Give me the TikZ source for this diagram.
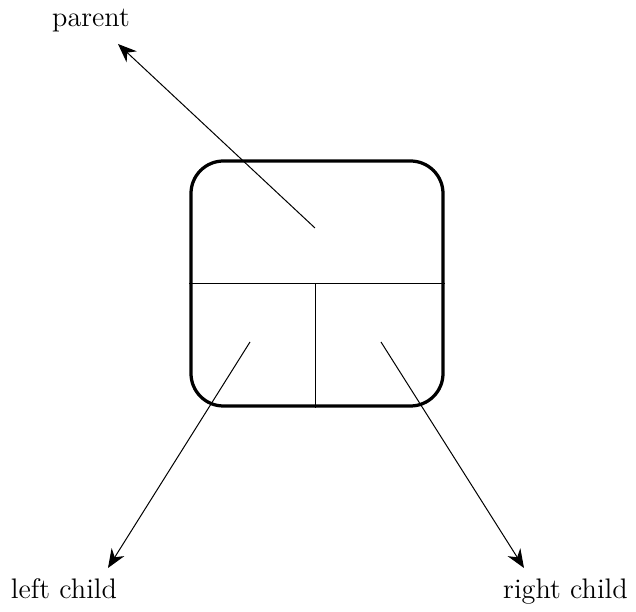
\documentclass[tikz,border=0pt]{standalone}
\usetikzlibrary{arrows.meta}
\begin{document}
\begin{tikzpicture}[x=0.4pt,y=-0.4pt,
  cell/.style={draw,line width=1.3pt,rounded corners=13pt,minimum width=100.8pt,minimum height=98pt,inner sep=0pt},
  divider/.style={line width=0.4pt},
  link/.style={line width=0.4pt,-{Stealth[length=7.5pt,width=6pt]}},
  label/.style={inner sep=0pt,anchor=base,font=\fontsize{11.3}{13}\selectfont}]
\useasboundingbox (0,0) rectangle (636,612);
% the node record with its three fields
\node[cell] (box) at (317,283.5) {};
\coordinate (midL) at (box.west |- 0,284);
\coordinate (midR) at (box.east |- 0,284);
\coordinate (midC) at (316,284);
\draw[divider] (midL) -- (midR);
\draw[divider] (midC) -- (midC |- box.south);
% pointer origins inside the fields
\coordinate (pp) at (315,228);
\coordinate (lp) at (250,342);
\coordinate (rp) at (381,342);
% targets
\node[label] (parent) at (91,26.5) {parent};
\node[label] (left) at (64,599) {left child};
\node[label] (right) at (565.5,599) {right child};
\coordinate (pt) at (118,44);
\coordinate (lt) at (108,568);
\coordinate (rt) at (524,568);
\draw[link] (pp) -- (pt);
\draw[link] (lp) -- (lt);
\draw[link] (rp) -- (rt);
\end{tikzpicture}
\end{document}
